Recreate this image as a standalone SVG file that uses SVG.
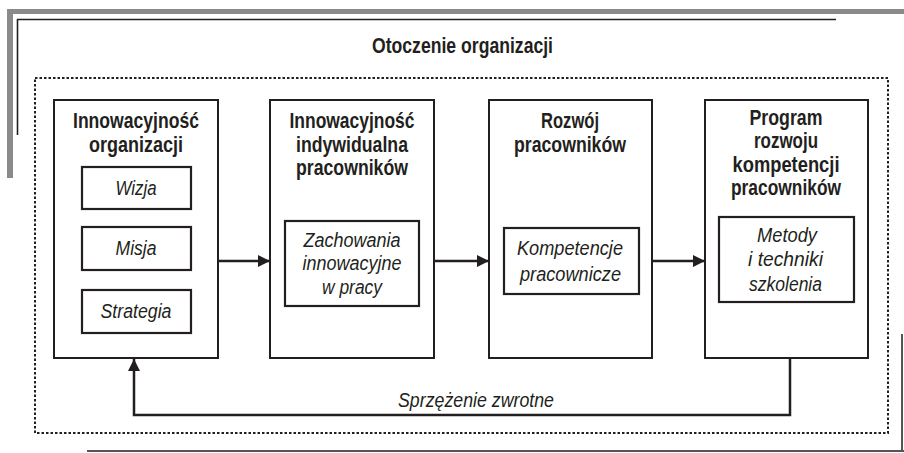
<svg xmlns="http://www.w3.org/2000/svg" width="904" height="453" viewBox="0 0 904 453">
<style>
.box{fill:#fff;stroke:#231f20;stroke-width:2}
.inner{fill:#fff;stroke:#231f20;stroke-width:2.2}
.h{font-family:"Liberation Sans",Arial,sans-serif;font-weight:bold;font-size:22px;fill:#231f20;text-anchor:middle}
.i{font-family:"Liberation Sans",Arial,sans-serif;font-style:italic;font-size:20px;fill:#231f20;text-anchor:middle}
.conn{fill:none;stroke:#231f20;stroke-width:2.5}
</style>
<defs>
<marker id="ah" viewBox="0 0 12 12" refX="12" refY="6" markerWidth="12" markerHeight="12" markerUnits="userSpaceOnUse" orient="auto">
<path d="M0,0 L12,6 L0,12 Z" fill="#231f20"/>
</marker>
</defs>
<rect width="904" height="453" fill="#fff"/>
<g id="frame">
<line x1="7" y1="11.5" x2="904" y2="11.5" stroke="#8a8a8c" stroke-width="5"/>
<line x1="10" y1="9" x2="10" y2="178" stroke="#8a8a8c" stroke-width="6"/>
<line x1="17" y1="19.5" x2="836" y2="19.5" stroke="#231f20" stroke-width="1.6"/>
<line x1="17.5" y1="19" x2="17.5" y2="135" stroke="#231f20" stroke-width="1.6"/>
<line x1="87" y1="451" x2="904" y2="451" stroke="#555" stroke-width="2"/>
<line x1="902" y1="334" x2="902" y2="452" stroke="#555" stroke-width="2"/>
<text x="462.5" y="53" class="h" font-size="21" textLength="181" lengthAdjust="spacingAndGlyphs">Otoczenie organizacji</text>
<rect x="35" y="78" width="853" height="355" fill="none" stroke="#231f20" stroke-width="2" stroke-dasharray="2.5 2"/>
</g>
<g id="connectors">
<line class="conn" x1="218" y1="261" x2="270" y2="261" marker-end="url(#ah)"/>
<line class="conn" x1="434" y1="261" x2="489" y2="261" marker-end="url(#ah)"/>
<line class="conn" x1="652" y1="261" x2="705" y2="261" marker-end="url(#ah)"/>
<polyline class="conn" points="790,358 790,415 134,415 134,359" marker-end="url(#ah)"/>
<text x="476" y="407" class="i" textLength="156" lengthAdjust="spacingAndGlyphs">Sprzężenie zwrotne</text>
</g>
<g id="node1">
<rect class="box" x="54" y="100" width="164" height="258"/>
<text x="136" y="128" class="h" textLength="126" lengthAdjust="spacingAndGlyphs">Innowacyjność</text>
<text x="136" y="152" class="h" textLength="94" lengthAdjust="spacingAndGlyphs">organizacji</text>
<g id="wizja"><rect class="inner" x="82" y="167" width="109" height="42"/><text x="136" y="195" class="i" textLength="41" lengthAdjust="spacingAndGlyphs">Wizja</text></g>
<g id="misja"><rect class="inner" x="82" y="227" width="109" height="43"/><text x="136" y="255" class="i" textLength="41" lengthAdjust="spacingAndGlyphs">Misja</text></g>
<g id="strategia"><rect class="inner" x="82" y="290" width="109" height="43"/><text x="136" y="318" class="i" textLength="71" lengthAdjust="spacingAndGlyphs">Strategia</text></g>
</g>
<g id="node2">
<rect class="box" x="270" y="100" width="164" height="258"/>
<text x="352" y="128" class="h" textLength="125" lengthAdjust="spacingAndGlyphs">Innowacyjność</text>
<text x="352" y="152" class="h" textLength="112" lengthAdjust="spacingAndGlyphs">indywidualna</text>
<text x="352" y="175" class="h" textLength="112" lengthAdjust="spacingAndGlyphs">pracowników</text>
<g id="zachowania"><rect class="inner" x="285" y="221" width="134" height="85"/>
<text x="352" y="247" class="i" textLength="97" lengthAdjust="spacingAndGlyphs">Zachowania</text>
<text x="352" y="270" class="i" textLength="99" lengthAdjust="spacingAndGlyphs">innowacyjne</text>
<text x="352" y="294" class="i" textLength="60" lengthAdjust="spacingAndGlyphs">w pracy</text></g>
</g>
<g id="node3">
<rect class="box" x="489" y="100" width="163" height="258"/>
<text x="570" y="128" class="h" textLength="58" lengthAdjust="spacingAndGlyphs">Rozwój</text>
<text x="570" y="152" class="h" textLength="112" lengthAdjust="spacingAndGlyphs">pracowników</text>
<g id="kompetencje"><rect class="inner" x="504" y="228" width="135" height="66"/>
<text x="570" y="255" class="i" textLength="106" lengthAdjust="spacingAndGlyphs">Kompetencje</text>
<text x="570.5" y="281" class="i" textLength="101" lengthAdjust="spacingAndGlyphs">pracownicze</text></g>
</g>
<g id="node4">
<rect class="box" x="705" y="100" width="163" height="258"/>
<text x="786" y="125" class="h" textLength="73" lengthAdjust="spacingAndGlyphs">Program</text>
<text x="786" y="148" class="h" textLength="64" lengthAdjust="spacingAndGlyphs">rozwoju</text>
<text x="786" y="172" class="h" textLength="107" lengthAdjust="spacingAndGlyphs">kompetencji</text>
<text x="786" y="195" class="h" textLength="110" lengthAdjust="spacingAndGlyphs">pracowników</text>
<g id="metody"><rect class="inner" x="719" y="217" width="135" height="85"/>
<text x="787" y="242" class="i" textLength="60" lengthAdjust="spacingAndGlyphs">Metody</text>
<text x="785.5" y="266" class="i" textLength="75" lengthAdjust="spacingAndGlyphs">i techniki</text>
<text x="785.5" y="291" class="i" textLength="73" lengthAdjust="spacingAndGlyphs">szkolenia</text></g>
</g>
</svg>
